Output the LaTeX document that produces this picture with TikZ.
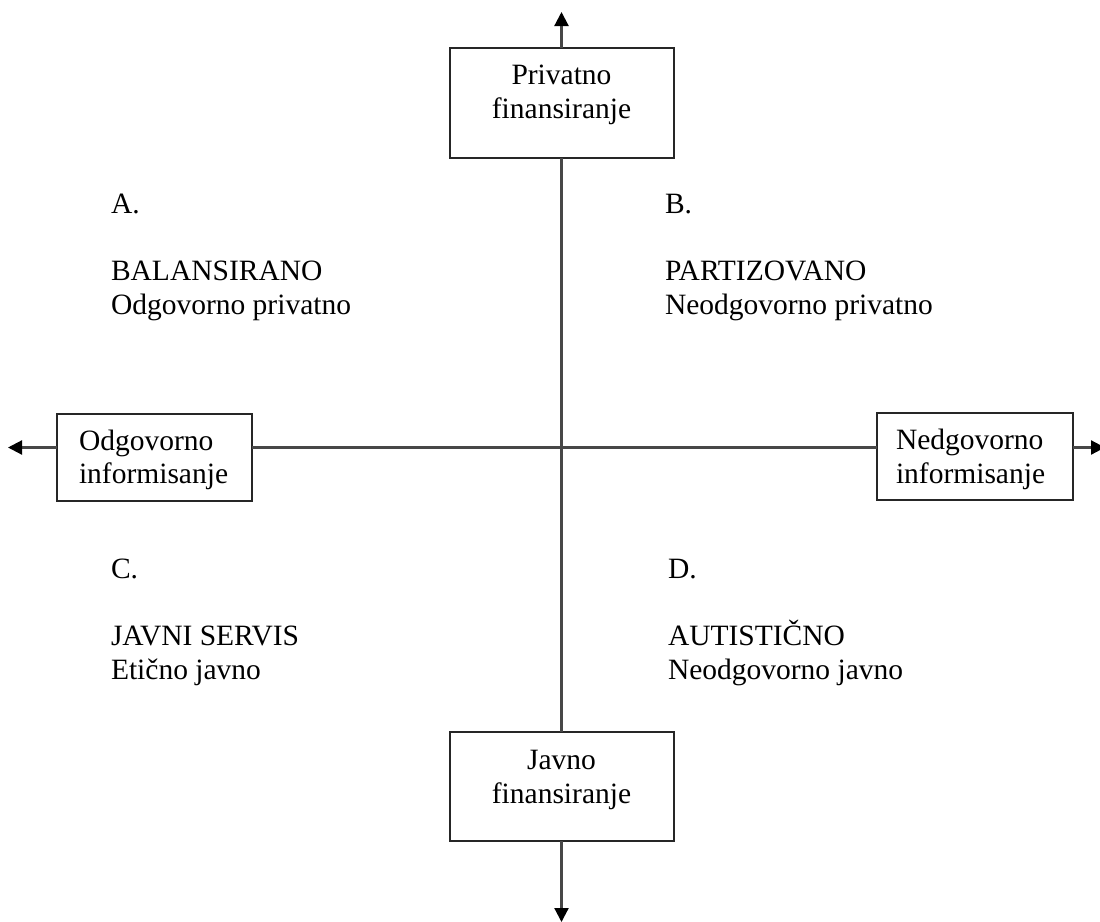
\documentclass[tikz,border=0pt]{standalone}
\usepackage{fontspec}
\setmainfont{Liberation Serif}
\usetikzlibrary{arrows.meta}
\begin{document}
\begin{tikzpicture}[x=1pt,y=-1pt,
  every node/.style={inner sep=0pt, outer sep=0pt},
  box/.style={draw=black!85, line width=2pt, fill=white},
  axis/.style={draw=black!72, line width=2.2pt},
  tip/.style={-{Triangle[length=14pt,width=14pt,color=black]}},
  quad/.style={anchor=base west}]
\useasboundingbox (0,0) rectangle (1100,921);
\fontsize{29.5}{33.5}\selectfont
% boxes
\node[box] (top) at (561.5,103) {\parbox[c][110pt][t]{224pt}{\centering\vspace*{17pt}Privatno\\finansiranje}};
\node[box] (bot) at (561.5,786.5) {\parbox[c][109pt][t]{224pt}{\centering\vspace*{18.5pt}Javno\\finansiranje}};
\node[box] (lft) at (154.5,457.5) {\parbox[c][87pt][t]{195pt}{\raggedright\leftskip=22pt\vspace*{16pt}Odgovorno\\informisanje}};
\node[box] (rgt) at (975,456.5) {\parbox[c][87pt][t]{196pt}{\raggedright\leftskip=19pt\vspace*{16.5pt}Nedgovorno\\informisanje}};
% axis helpers
\coordinate (hy) at (0,447.5);
\coordinate (ttip) at (561.5,12);
\coordinate (btip) at (561.5,922);
\coordinate (ltip) at (8,447.5);
\coordinate (rtip) at (1105,447.5);
\begin{scope}[on background layer/.style={}]
\draw[axis] (top.south) -- (bot.north);
\draw[axis] (lft.east |- hy) -- (rgt.west |- hy);
\end{scope}
\draw[axis,tip] (top.north) -- (ttip);
\draw[axis,tip] (bot.south) -- (btip);
\draw[axis,tip] (lft.west |- hy) -- (ltip);
\draw[axis,tip] (rgt.east |- hy) -- (rtip);
% quadrant texts
\node[quad] (qa) at (111,213) {\parbox[t]{330pt}{\raggedright A.\\[34pt]BALANSIRANO\\Odgovorno privatno}};
\node[quad] (qb) at (665,213) {\parbox[t]{330pt}{\raggedright B.\\[34pt]PARTIZOVANO\\Neodgovorno privatno}};
\node[quad] (qc) at (111,578) {\parbox[t]{330pt}{\raggedright C.\\[34pt]JAVNI SERVIS\\Etično javno}};
\node[quad] (qd) at (668,578) {\parbox[t]{330pt}{\raggedright D.\\[34pt]AUTISTIČNO\\Neodgovorno javno}};
\end{tikzpicture}
\end{document}
